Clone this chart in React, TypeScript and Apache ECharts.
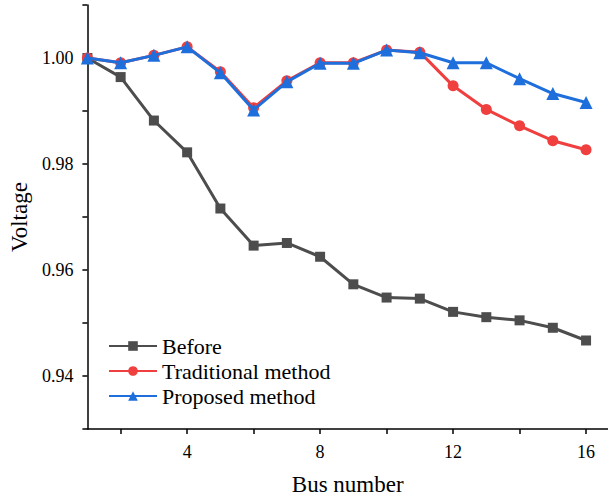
import React, { useEffect, useRef } from "react";
import * as echarts from "echarts";

const busNumbers = [1, 2, 3, 4, 5, 6, 7, 8, 9, 10, 11, 12, 13, 14, 15, 16];
const before = [1.0, 0.9964, 0.9882, 0.9822, 0.9716, 0.9646, 0.9651, 0.9625, 0.9573, 0.9548, 0.9546, 0.9521, 0.9511, 0.9505, 0.9491, 0.9467];
const traditional = [1.0, 0.9991, 1.0005, 1.0021, 0.9974, 0.9906, 0.9957, 0.9991, 0.9991, 1.0015, 1.0011, 0.99475, 0.9903, 0.9872, 0.9844, 0.9827];
const proposed = [1.0, 0.9991, 1.0005, 1.0021, 0.9972, 0.9902, 0.9955, 0.999, 0.999, 1.0015, 1.001, 0.9991, 0.9991, 0.9961, 0.9933, 0.9916];
const xTicks = [2, 4, 6, 8, 10, 12, 14, 16];
const xLabels = [4, 8, 12, 16];
const yTicks = [0.93, 0.94, 0.95, 0.96, 0.97, 0.98, 0.99, 1.0, 1.01];
const yLabels = [0.94, 0.96, 0.98, 1.0];

const FONT = "Liberation Serif";

export default function App() {
  const ref = useRef<HTMLDivElement>(null);
  useEffect(() => {
    const chart = echarts.init(ref.current!, null, { renderer: "svg" });
    const pair = (arr: number[]) => busNumbers.map((b, i) => [b, arr[i]]);
    const axisLine = { show: true, lineStyle: { color: "#000", width: 1.5 } };
    chart.setOption({
      animation: false,
      backgroundColor: "#fff",
      grid: { left: 86, top: 5, right: 0, bottom: 69, containLabel: false },
      legend: {
        orient: "vertical",
        left: 103,
        top: 330,
        itemWidth: 48,
        itemHeight: 12,
        itemGap: 3,
        textStyle: { fontFamily: FONT, fontSize: 22, color: "#000" },
        data: ["Before", "Traditional method", "Proposed method"],
      },
      xAxis: {
        type: "value",
        min: 1,
        max: 16.66,
        name: "Bus number",
        nameLocation: "middle",
        nameGap: 44,
        nameTextStyle: { fontFamily: FONT, fontSize: 23, color: "#000" },
        axisLine,
        splitLine: { show: false },
        axisTick: { show: true, customValues: xTicks, length: 5, lineStyle: { color: "#000", width: 1.5 } },
        axisLabel: { customValues: xLabels, fontFamily: FONT, fontSize: 18, color: "#000", margin: 14 },
      },
      yAxis: {
        type: "value",
        min: 0.93,
        max: 1.01,
        name: "Voltage",
        nameLocation: "middle",
        nameGap: 54,
        nameTextStyle: { fontFamily: FONT, fontSize: 23, color: "#000" },
        axisLine,
        splitLine: { show: false },
        axisTick: { show: true, customValues: yTicks, length: 5, lineStyle: { color: "#000", width: 1.5 } },
        axisLabel: {
          customValues: yLabels,
          fontFamily: FONT,
          fontSize: 18,
          color: "#000",
          margin: 14,
          formatter: (v: number) => v.toFixed(2),
        },
      },
      series: [
        {
          name: "Before",
          type: "line",
          data: pair(before),
          symbol: "rect",
          symbolSize: 10,
          color: "#4d4d4d",
          lineStyle: { width: 3, color: "#4d4d4d" },
          itemStyle: { color: "#4d4d4d" },
          z: 2,
        },
        {
          name: "Traditional method",
          type: "line",
          data: pair(traditional),
          symbol: "circle",
          symbolSize: 11,
          color: "#ef3f3f",
          lineStyle: { width: 3, color: "#ef3f3f" },
          itemStyle: { color: "#ef3f3f" },
          z: 3,
        },
        {
          name: "Proposed method",
          type: "line",
          data: pair(proposed),
          symbol: "triangle",
          symbolSize: 13,
          color: "#1e6fdc",
          lineStyle: { width: 3, color: "#1e6fdc" },
          itemStyle: { color: "#1e6fdc" },
          z: 4,
        },
      ],
    });
    return () => chart.dispose();
  }, []);
  return <div ref={ref} style={{ width: 608, height: 501, position: "absolute", left: 0, top: 0 }} />;
}
